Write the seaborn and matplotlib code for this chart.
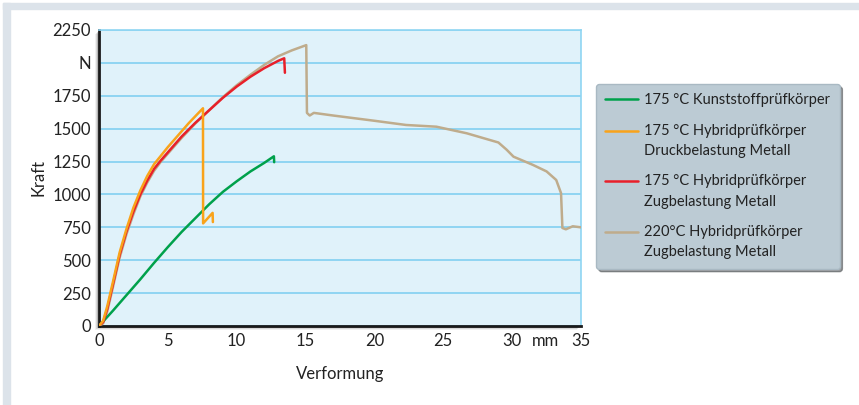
import matplotlib
matplotlib.use("Agg")
import matplotlib.pyplot as plt
import matplotlib.patches as mpatches
from matplotlib.legend_handler import HandlerLine2D
import pandas as pd
import seaborn as sns

# Kraft-Verformung curves
green_x = [0, 1, 2, 3, 4, 5, 6, 7, 8, 9, 10, 11, 12, 12.7, 12.72]
green_y = [0, 115, 235, 355, 480, 600, 715, 820, 925, 1020, 1100, 1175, 1240, 1290, 1245]

orange_x = [0, 0.3, 0.6, 1, 1.5, 2, 2.5, 3, 3.5, 4, 4.5, 5, 5.5, 6, 6.5, 7, 7.55, 7.56, 8.25, 8.27]
orange_y = [0, 40, 150, 330, 560, 740, 900, 1030, 1140, 1230, 1295, 1360, 1420, 1480, 1540, 1595, 1655, 780, 860, 790]

red_x = [0, 0.3, 0.6, 1, 1.5, 2, 2.5, 3, 3.5, 4, 4.5, 5, 6, 7, 8, 9, 10, 11, 12, 13, 13.45, 13.5]
red_y = [0, 30, 130, 310, 540, 720, 870, 1000, 1105, 1195, 1260, 1320, 1440, 1545, 1640, 1735, 1820, 1895, 1960, 2015, 2035, 1925]

tan_x = [0, 0.3, 0.6, 1, 1.5, 2, 2.5, 3, 3.5, 4, 4.5, 5, 6, 7, 8, 9, 10, 11, 12, 13, 14, 15.05,
         15.1, 15.3, 15.6, 17, 20, 22.3, 24.5, 26.7, 29, 29.6, 30.1, 31.5, 32.5, 33.2, 33.55,
         33.65, 33.9, 34.4, 35]
tan_y = [0, 20, 110, 290, 520, 700, 850, 985, 1090, 1180, 1250, 1310, 1430, 1540, 1640, 1740, 1830, 1910, 1985, 2050, 2095, 2135,
         1620, 1600, 1620, 1600, 1560, 1528, 1515, 1465, 1395, 1340, 1287, 1225, 1175, 1110, 1010,
         745, 735, 758, 750]

labels = ["175\u202f°C Kunststoffprüfkörper",
          "175\u202f°C Hybridprüfkörper\nDruckbelastung Metall",
          "175\u202f°C Hybridprüfkörper\nZugbelastung Metall",
          "220°C Hybridprüfkörper\nZugbelastung Metall"]
colors = ["#00a14b", "#f9a31a", "#e8202a", "#bfac8c"]

y_ticks = [0, 250, 500, 750, 1000, 1250, 1500, 1750, 2000, 2250]
y_ticklabels = ["0", "250", "500", "750", "1000", "1250", "1500", "1750", "N", "2250"]
x_ticks = [0, 5, 10, 15, 20, 25, 30, 35]


class FirstLineHandler(HandlerLine2D):
    # puts the legend line next to the first text line of a two-line label
    def __init__(self, shift, **kw):
        super().__init__(**kw)
        self.shift = shift

    def create_artists(self, legend, orig_handle, xdescent, ydescent, width, height, fontsize, trans):
        arts = super().create_artists(legend, orig_handle, xdescent, ydescent, width, height, fontsize, trans)
        for a in arts:
            a.set_ydata([y + self.shift for y in a.get_ydata()])
        return arts


sns.set_theme(style="white")
plt.rcParams["font.family"] = ["Lato", "DejaVu Sans"]

fig = plt.figure(figsize=(8.59, 4.05), dpi=100)
fig.patch.set_facecolor("white")

# grey frame strips top and left
fig.add_artist(mpatches.Rectangle((3 / 859, 0), 7 / 859, 402 / 405, transform=fig.transFigure,
                                  color="#dce3ea", zorder=-2))
fig.add_artist(mpatches.Rectangle((3 / 859, 396 / 405), 856 / 859, 6 / 405, transform=fig.transFigure,
                                  color="#dce3ea", zorder=-2))

ax_rect = [99 / 859, 79 / 405, 482 / 859, 296 / 405]
# soft shadow behind the plot area
for i, a in enumerate([0.06, 0.10, 0.16]):
    off = (4 - i) / 859
    offy = (4 - i) / 405
    fig.add_artist(mpatches.Rectangle((ax_rect[0] - off, ax_rect[1] - offy), ax_rect[2], ax_rect[3],
                                      transform=fig.transFigure, color="black", alpha=a, lw=0, zorder=-1))

ax = fig.add_axes(ax_rect)
ax.set_zorder(2)
ax.set_facecolor("#e0f2fa")

series = [(green_x, green_y), (orange_x, orange_y), (red_x, red_y), (tan_x, tan_y)]
for i in [3, 0, 2, 1]:
    xs, ys = series[i]
    df = pd.DataFrame({"x": xs, "y": ys})
    sns.lineplot(data=df, x="x", y="y", ax=ax, color=colors[i], lw=1.8, sort=False,
                 estimator=None, label=labels[i], zorder=3)

ax.set_xlim(0, 35)
ax.set_ylim(0, 2250)
ax.set_yticks(y_ticks)
ax.set_yticklabels(y_ticklabels)
ax.set_xticks(x_ticks)
ax.grid(axis="y", color="#8fd5f2", lw=1.4)
ax.grid(axis="x", visible=False)
ax.tick_params(axis="x", direction="in", length=7, width=1.2, color="#8fd5f2", labelsize=12,
               labelcolor="#222222", pad=5)
ax.tick_params(axis="y", length=0, labelsize=12, labelcolor="#222222", pad=6)

for s in ["left", "bottom"]:
    ax.spines[s].set_color("#1a1a1a")
    ax.spines[s].set_linewidth(2)
for s in ["right", "top"]:
    ax.spines[s].set_color("#8fd5f2")
    ax.spines[s].set_linewidth(1.2)

ax.annotate("mm", xy=(32.4, 0), xycoords=("data", "axes fraction"), xytext=(0, -5),
            textcoords="offset points", ha="center", va="top", fontsize=12, color="#222222")
ax.set_xlabel("Verformung", fontsize=12, color="#222222", labelpad=12)
ax.set_ylabel("Kraft", fontsize=12, color="#222222", labelpad=4)

handles, labs = ax.get_legend_handles_labels()
order = [labs.index(l) for l in labels]
ordered = [handles[k] for k in order]
hmap = {h: FirstLineHandler(7.5) for h in ordered[1:]}
leg = ax.legend(ordered, [labs[k] for k in order], handler_map=hmap,
                loc="upper left", bbox_to_anchor=(596 / 859, 321 / 405), bbox_transform=fig.transFigure,
                fontsize=10.5, frameon=True, fancybox=True, shadow=True, facecolor="#bccbd4",
                edgecolor="#a9b9c3", framealpha=1, handlelength=2.2, handletextpad=0.45,
                labelspacing=1.1, borderpad=0.65, borderaxespad=0)
for t in leg.get_texts():
    t.set_color("#222222")
    t.set_linespacing(1.6)
for h in leg.get_lines():
    h.set_linewidth(1.8)

fig.savefig("out.png", dpi=100)
